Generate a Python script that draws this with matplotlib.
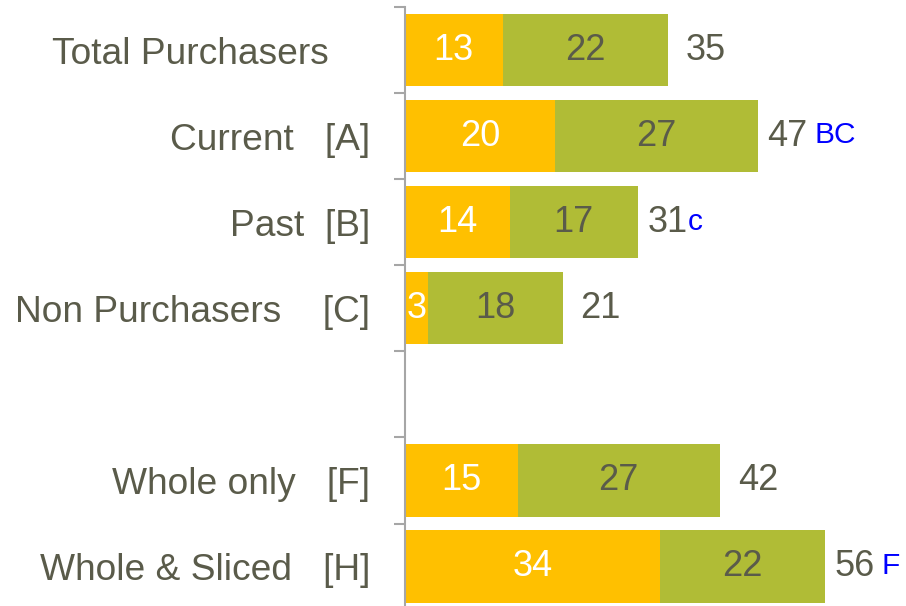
import matplotlib
matplotlib.use("Agg")
import matplotlib.pyplot as plt
import numpy as np

plt.rcParams['font.family'] = ['Liberation Sans', 'DejaVu Sans']

labels = ["Total Purchasers    ", "Current   [A]", "Past  [B]", "Non Purchasers    [C]",
          "", "Whole only   [F]", "Whole & Sliced   [H]"]
first = [13, 20, 14, 3, np.nan, 15, 34]
second = [22, 27, 17, 18, np.nan, 27, 22]
sig = ["", "BC", "c", "", "", "", "F"]

ORANGE = "#FFC000"
GREEN = "#B0BC36"
TXT = "#5A5B4A"
AXC = "#A6A6A6"

fig = plt.figure(figsize=(9.06, 6.06), dpi=100)
ax = fig.add_axes([405/906, -3.6/606, 501/906, 602.6/606])

n = len(labels)
y = np.arange(n)
f = np.array(first, dtype=float)
s = np.array(second, dtype=float)
tot = f + s
h = 0.84
ax.barh(y, f, height=h, color=ORANGE, edgecolor="none")
ax.barh(y, s, left=f, height=h, color=GREEN, edgecolor="none")

for i in range(n):
    if np.isnan(f[i]):
        continue
    ax.text(f[i] / 2, y[i], f"{int(f[i])}", ha="center", va="center",
            color="white", fontsize=26)
    ax.text(f[i] + s[i] / 2, y[i], f"{int(s[i])}", ha="center", va="center",
            color=TXT, fontsize=26)
    off = 1.3 if sig[i] else 2.4
    t = ax.text(tot[i] + off, y[i], f"{int(tot[i])}", ha="left", va="center",
                color=TXT, fontsize=26)
    if sig[i]:
        gap = 0 if sig[i].islower() else 5
        ax.annotate(sig[i], xy=(1, 0.12), xycoords=t, xytext=(gap, 0),
                    textcoords="offset points", ha="left", va="bottom",
                    color="#0000FF", fontsize=21.5)

ax.set_xlim(0, 501 / 7.5)
ax.set_ylim(n - 0.5, -0.5)
ax.set_yticks(y)
ax.set_yticklabels(labels, fontsize=26.7, color=TXT)
ax.set_yticks(np.arange(n + 1) - 0.5, minor=True)
ax.tick_params(axis="y", which="major", length=0, pad=25)
ax.tick_params(axis="y", which="minor", length=8, width=1.5, color=AXC, direction="out")
ax.set_xticks([])
for sp in ["top", "right", "bottom"]:
    ax.spines[sp].set_visible(False)
ax.spines["left"].set_color(AXC)
ax.spines["left"].set_linewidth(1.5)

fig.savefig("out.png", dpi=100)
